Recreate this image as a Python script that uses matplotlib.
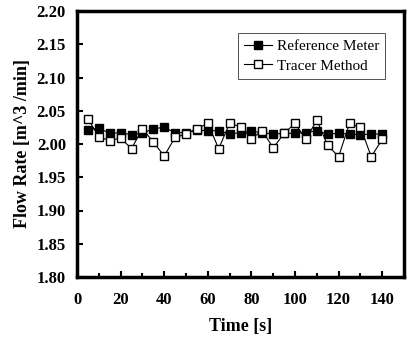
import numpy as np
import matplotlib.pyplot as plt
from matplotlib.ticker import MultipleLocator

# sample times [s]
time_s = [5, 10, 15, 20, 25, 30, 35, 40, 45, 50, 55, 60, 65, 70,
          75, 80, 85, 90, 95, 100, 105, 110, 115, 120, 125, 130, 135, 140]

reference_meter = [2.021, 2.024, 2.016, 2.017, 2.014, 2.016, 2.023, 2.025, 2.017, 2.017,
                   2.021, 2.020, 2.020, 2.015, 2.017, 2.019, 2.017, 2.015, 2.016, 2.016,
                   2.017, 2.020, 2.015, 2.016, 2.015, 2.014, 2.015, 2.015]

tracer_method = [2.038, 2.011, 2.005, 2.009, 1.993, 2.023, 2.003, 1.982, 2.010, 2.015,
                 2.023, 2.031, 1.993, 2.031, 2.026, 2.008, 2.020, 1.994, 2.016, 2.031,
                 2.007, 2.036, 1.998, 1.981, 2.031, 2.025, 1.981, 2.007]

x_ticks = [0, 20, 40, 60, 80, 100, 120, 140]
y_ticks = [1.80, 1.85, 1.90, 1.95, 2.00, 2.05, 2.10, 2.15, 2.20]

plt.rcParams["font.family"] = ["Liberation Serif", "DejaVu Serif"]

fig = plt.figure(figsize=(4.07, 3.41), dpi=100)
ax = fig.add_axes([77 / 407, 64 / 341, 327 / 407, 266 / 341])

ax.plot(time_s, reference_meter, color="black", lw=0.8, marker="s", ms=6,
        mfc="black", mec="black", label="Reference Meter", zorder=3)
ax.plot(time_s, tracer_method, color="black", lw=0.8, marker="s", ms=6,
        mfc="white", mec="black", mew=1.0, label="Tracer Method", zorder=4)

ax.set_xlim(0, 150)
ax.set_ylim(1.80, 2.20)
ax.set_xticks(x_ticks)
ax.set_yticks(y_ticks)
ax.xaxis.set_minor_locator(MultipleLocator(10))
ax.set_yticklabels([f"{v:.2f}" for v in y_ticks])

ax.tick_params(axis="both", which="both", direction="in", width=1.5, length=4,
               labelsize=12)
ax.tick_params(axis="x", which="major", pad=11)
ax.tick_params(axis="y", which="major", pad=8)
ax.tick_params(axis="x", which="minor", length=3)
for lab in ax.get_xticklabels() + ax.get_yticklabels():
    lab.set_fontweight("bold")

for sp in ax.spines.values():
    sp.set_linewidth(2.5)

ax.set_xlabel("Time [s]", fontsize=13, fontweight="bold", labelpad=7)
ax.set_ylabel("Flow Rate [m^3 /min]", fontsize=13, fontweight="bold", labelpad=4)

leg = ax.legend(loc="upper right", bbox_to_anchor=(0.942, 0.917), fontsize=11,
                frameon=True, fancybox=False, edgecolor="black",
                handlelength=1.8, handletextpad=0.3, borderpad=0.4,
                labelspacing=0.4, borderaxespad=0)
leg.get_frame().set_linewidth(0.6)

fig.savefig("out.png", dpi=100)
